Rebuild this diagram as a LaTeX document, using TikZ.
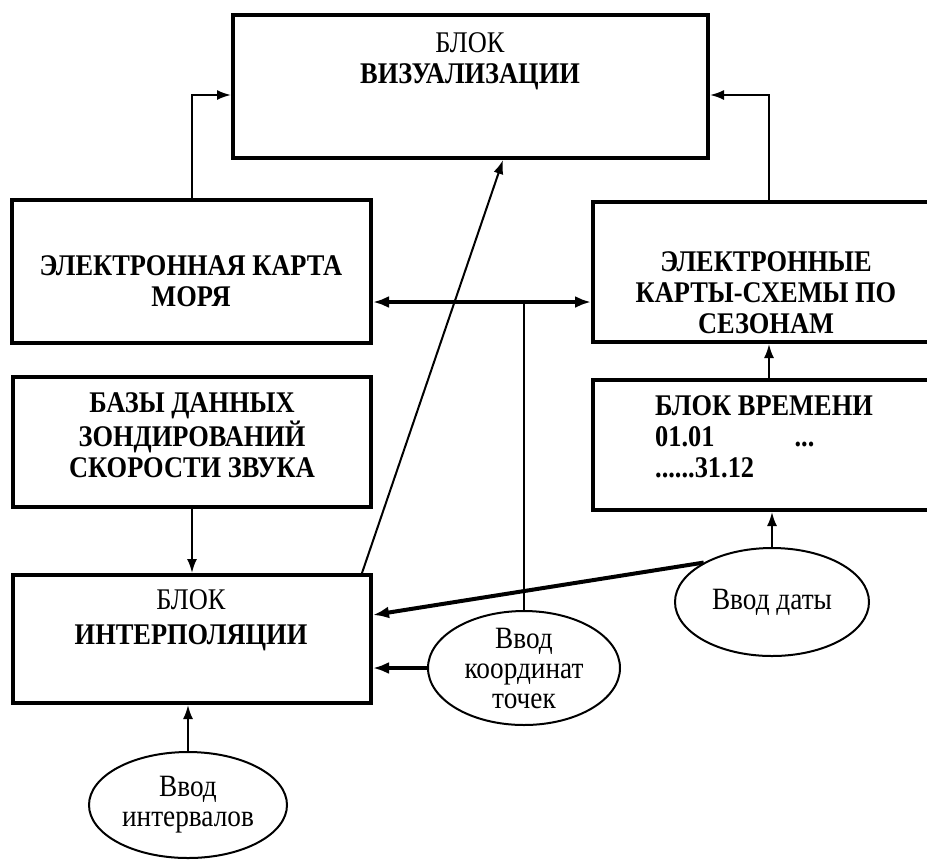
\documentclass[tikz,border=0pt]{standalone}
\usepackage{fontspec}
\setmainfont[FakeStretch=0.88]{Liberation Serif}
\usetikzlibrary{arrows.meta,shapes.geometric}

\tikzset{
  box/.style={shape=rectangle,draw=black,line width=2pt,inner sep=0pt},
  inp/.style={shape=ellipse,draw=black,line width=1pt,inner sep=0pt,align=center,
    font=\fontsize{15.5}{15}\selectfont},
  txt/.style={align=center,font=\fontsize{15}{15.5}\selectfont\bfseries},
  link/.style={line width=1pt,-{Latex[length=7pt,width=5pt]}},
  heavy/.style={line width=2pt,-{Latex[length=8pt,width=6pt]}}
}

\begin{document}
\begin{tikzpicture}[x=0.5pt,y=-0.5pt]
            \useasboundingbox (0,0) rectangle (927,859);

            %blocchi
            \node[box,minimum width=237.5pt,minimum height=71.5pt] (vis) at (470.5,86.5) {};
            \node[box,minimum width=179.5pt,minimum height=71.5pt] (sea) at (191.5,271.5) {};
            \node[box,minimum width=171pt,minimum height=70pt] (seasons) at (764,272) {};
            \node[box,minimum width=179pt,minimum height=65pt] (db) at (192,442) {};
            \node[box,minimum width=171pt,minimum height=65pt] (time) at (764,445) {};
            \node[box,minimum width=179pt,minimum height=64pt] (interp) at (192,639) {};

            %testi dei blocchi
            \node[txt] (vistxt) at (470,61) {\mdseries БЛОК\\ВИЗУАЛИЗАЦИИ};
            \node[txt] (seatxt) at (191,281) {ЭЛЕКТРОННАЯ КАРТА\\МОРЯ};
            \node[txt] (seasonstxt) at (766,293) {ЭЛЕКТРОННЫЕ\\КАРТЫ-СХЕМЫ ПО\\СЕЗОНАМ};
            \node[txt] (dbtxt) at (192,435) {БАЗЫ ДАННЫХ\\ЗОНДИРОВАНИЙ\\СКОРОСТИ ЗВУКА};
            \node[txt,align=left] (timetxt) at (764,437) {БЛОК ВРЕМЕНИ\\01.01\hspace{40pt}...\hspace{10pt}\\......31.12};
            \node[txt] (interptxt) at (191,620) {\mdseries БЛОК\\[2pt]ИНТЕРПОЛЯЦИИ};

            %ellissi di input
            \node[inp,minimum width=97pt,minimum height=54pt] (date) at (772,602) {Ввод даты};
            \node[inp,minimum width=96pt,minimum height=54pt] (coord) at (524,668) {Ввод\\координат\\точек};
            \node[inp,minimum width=99pt,minimum height=53pt] (interval) at (188,805) {Ввод\\интервалов};

            \coordinate (bus) at (524,302);

            %Ora gli archi
            \draw[link] (sea.north) |- ([yshift=-4.25pt]vis.west);
            \draw[link] ([xshift=2.5pt]seasons.north) |- ([yshift=-4.25pt]vis.east);
            \draw[heavy,{Latex[length=8pt,width=6pt]}-{Latex[length=8pt,width=6pt]}] ([yshift=-15.25pt]sea.east) -- ([yshift=-15pt]seasons.west);
            \draw[line width=1pt] (coord.north) -- (bus);
            \draw[link] ([xshift=2.5pt]time.north) -- ([xshift=2.5pt]seasons.south);
            \draw[link] (date.north) -- (date.north |- time.south);
            \draw[heavy] (date.150) -- ([yshift=12pt]interp.east);
            \draw[heavy] (coord.west) -- (coord.west -| interp.east);
            \draw[link] (db.south) -- (interp.north);
            \draw[link] (interval.north) -- (interval.north |- interp.south);
            \draw[link] ([xshift=-5.5pt]interp.north east) -- ([xshift=16.25pt]vis.south);
        \end{tikzpicture}
\end{document}
